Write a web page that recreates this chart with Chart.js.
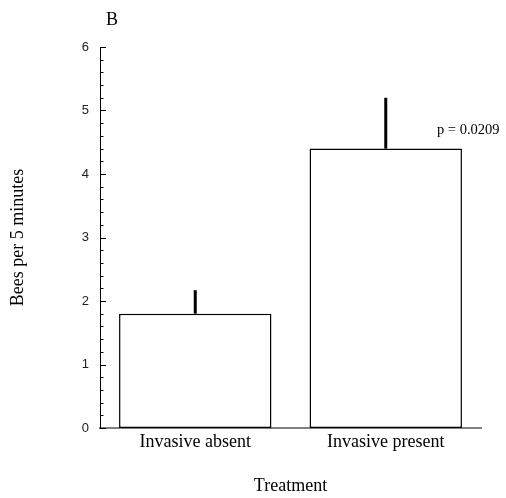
<!DOCTYPE html>
<html>
<head>
<meta charset="utf-8">
<script src="https://cdn.jsdelivr.net/npm/chart.js@4"></script>
<style>
  html, body { margin: 0; padding: 0; background: #ffffff; }
  #wrap { width: 506px; height: 498px; }
</style>
</head>
<body>
<div id="wrap"><canvas id="c" width="506" height="498"></canvas></div>
<script>
const categories = ['Invasive absent', 'Invasive present'];
const meanValues = [1.8, 4.4];
const errorValues = [0.37, 0.8];
const yMin = 0;
const yMax = 6;
const yStep = 0.2;
const panelLabel = 'B';
const pValueText = 'p = 0.0209';
const yTitle = 'Bees per 5 minutes';
const xTitle = 'Treatment';

const serif = '"Liberation Serif", "Times New Roman", serif';
const sans = '"Liberation Sans", Arial, sans-serif';

const isMajor = v => Math.abs(v - Math.round(v)) < 1e-6;

const annotations = {
  id: 'annotations',
  afterDatasetsDraw(chart) {
    const ctx = chart.ctx;
    const y = chart.scales.y;
    const meta = chart.getDatasetMeta(0);
    ctx.save();
    // error bars (upper only)
    ctx.strokeStyle = '#000';
    ctx.lineWidth = 3;
    meta.data.forEach((bar, i) => {
      const y0 = y.getPixelForValue(meanValues[i]);
      const y1 = y.getPixelForValue(meanValues[i] + errorValues[i]);
      ctx.beginPath();
      ctx.moveTo(bar.x, y0);
      ctx.lineTo(bar.x, y1);
      ctx.stroke();
    });
    // p value label near second bar
    const b2 = meta.data[1];
    const b2Right = b2.x + b2.width / 2;
    ctx.fillStyle = '#000';
    ctx.font = '14.5px ' + serif;
    ctx.textAlign = 'left';
    ctx.textBaseline = 'middle';
    ctx.fillText(pValueText, b2Right - 25, y.getPixelForValue(meanValues[1]) - 18);
    ctx.restore();
  },
  afterDraw(chart) {
    const ctx = chart.ctx;
    const y = chart.scales.y;
    const area = chart.chartArea;
    ctx.save();
    // inward tick marks on y axis
    ctx.strokeStyle = '#000';
    ctx.lineWidth = 1;
    y.ticks.forEach(t => {
      const py = Math.round(y.getPixelForValue(t.value)) + 0.5;
      const len = isMajor(t.value) ? 6 : 3.5;
      ctx.beginPath();
      ctx.moveTo(area.left, py);
      ctx.lineTo(area.left + len, py);
      ctx.stroke();
    });
    // panel label
    ctx.fillStyle = '#000';
    ctx.font = '18px ' + serif;
    ctx.textAlign = 'left';
    ctx.textBaseline = 'middle';
    ctx.fillText(panelLabel, area.left + 6, 20);
    ctx.restore();
  }
};

new Chart(document.getElementById('c'), {
  type: 'bar',
  data: {
    labels: categories,
    datasets: [{
      data: meanValues,
      backgroundColor: '#ffffff',
      borderColor: '#000000',
      borderWidth: 1.5,
      borderSkipped: false,
      barPercentage: 0.8,
      categoryPercentage: 1.0
    }]
  },
  options: {
    responsive: false,
    animation: false,
    devicePixelRatio: 1,
    layout: { padding: { left: 0, right: 25, top: 47, bottom: 0 } },
    plugins: {
      legend: { display: false },
      tooltip: { enabled: false },
      title: { display: false }
    },
    scales: {
      x: {
        grid: { display: false, drawTicks: false },
        border: { display: true, color: '#808080', width: 2 },
        ticks: {
          color: '#000',
          font: { family: serif, size: 18 },
          padding: 3,
          maxRotation: 0
        },
        title: {
          display: true,
          text: xTitle,
          color: '#000',
          font: { family: serif, size: 18 },
          padding: { top: 0, bottom: 1 }
        },
        afterFit(scale) { scale.height = 70; }
      },
      y: {
        min: yMin,
        max: yMax,
        grid: { display: false, drawTicks: false },
        border: { display: true, color: '#000', width: 1 },
        ticks: {
          stepSize: yStep,
          autoSkip: false,
          color: '#222',
          font: { family: sans, size: 13 },
          padding: 11,
          callback(v) { return isMajor(v) ? String(Math.round(v)) : ''; }
        },
        title: {
          display: true,
          text: yTitle,
          color: '#000',
          font: { family: serif, size: 18 },
          padding: { top: 7, bottom: 0 }
        },
        afterFit(scale) { scale.width = 100; }
      }
    }
  },
  plugins: [annotations]
});
</script>
</body>
</html>
